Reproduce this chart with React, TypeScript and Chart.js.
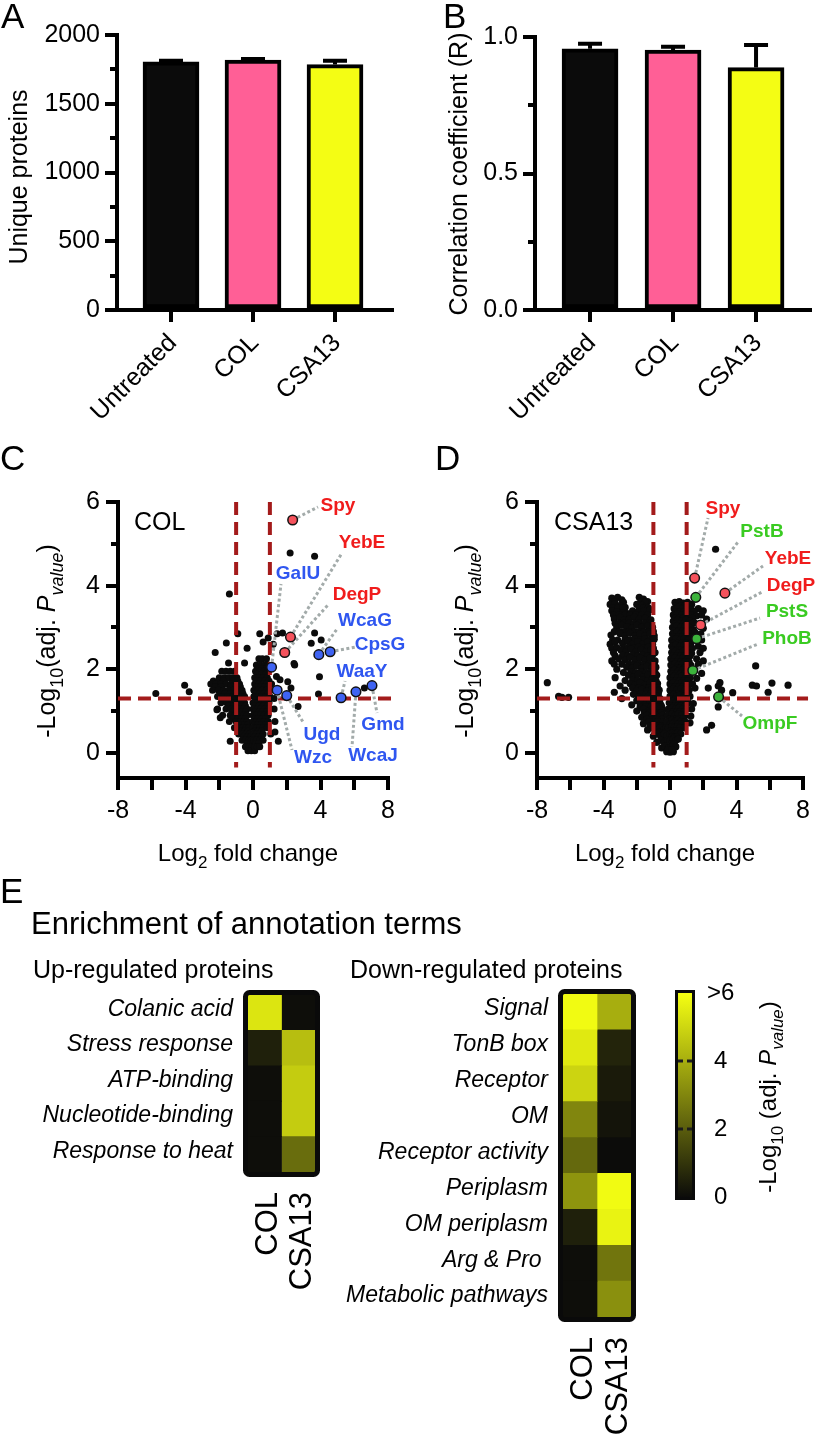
import React, { useEffect, useRef } from 'react';
import { Chart, registerables } from 'chart.js';

Chart.register(...registerables);

const FONT = '"Liberation Sans", Arial, Helvetica, sans-serif';
Chart.defaults.font.family = FONT;
Chart.defaults.color = '#000';

const W = 816;
const H = 1436;

// ------------------------------------------------------------------ DATA
// Panels A and B (bar charts, mean + SD)
const BAR_CATEGORIES = ['Untreated', 'COL', 'CSA13'];
const UNIQUE_PROTEINS = [1805, 1818, 1785];
const UNIQUE_PROTEINS_SD = [8, 8, 28];
const UNIQUE_TICKS = [0, 500, 1000, 1500, 2000];
const UNIQUE_MINOR_TICKS = [250, 750, 1250, 1750];
const CORRELATION_R = [0.957, 0.952, 0.888];
const CORRELATION_R_SD = [0.018, 0.012, 0.083];
const R_TICKS = [0, 0.5, 1.0];
const R_MINOR_TICKS = [0.25, 0.75];

// Panels C and D (volcano plots): [log2 fold change, -log10 adj. p]
const VOLCANO_X_TICKS = [-8, -6, -4, -2, 0, 2, 4, 6, 8];
const VOLCANO_Y_TICKS = [0, 2, 4, 6];
const VOLCANO_Y_MINOR_TICKS = [1, 3, 5];
const FC_CUTOFF = 1;
const P_CUTOFF = 1.3;

const COL_POINTS: [number, number][] = [
  [-1.45, 2.15], [-0.5, 2.15],
  [-1.85, 1.95], [-1.6, 1.95], [-1.35, 1.95], [-1.1, 1.95],
  [-2.0, 1.8], [-1.7, 1.8], [-1.45, 1.8], [-1.2, 1.8], [-0.95, 1.8],
  [-2.35, 1.72], [-2.05, 1.72], [-1.75, 1.72], [-1.15, 1.72], [-0.9, 1.72],
  [-2.5, 1.65], [-2.2, 1.65], [-1.9, 1.65], [-1.6, 1.65], [-1.3, 1.65], [-1.05, 1.65], [-0.8, 1.65],
  [-2.25, 1.58], [-1.9, 1.58], [-1.3, 1.58], [-1.0, 1.58], [-0.75, 1.58],
  [-2.4, 1.5], [-2.05, 1.5], [-1.75, 1.5], [-1.45, 1.5], [-1.15, 1.5], [-0.9, 1.5], [-0.65, 1.5],
  [-1.95, 1.42], [-1.65, 1.42], [-1.35, 1.42], [-1.05, 1.42], [-0.8, 1.42], [-0.6, 1.42],
  [-2.1, 1.35], [-1.8, 1.35], [-1.5, 1.35], [-1.2, 1.35], [-0.95, 1.35], [-0.7, 1.35], [-0.5, 1.35],
  [-1.7, 1.28], [-1.4, 1.28], [-1.1, 1.28], [-0.85, 1.28], [-0.6, 1.28],
  [-1.9, 1.2], [-1.55, 1.2], [-1.25, 1.2], [-1.0, 1.2], [-0.75, 1.2], [-0.5, 1.2],
  [-1.45, 1.12], [-1.15, 1.12], [-0.9, 1.12], [-0.65, 1.12], [-0.45, 1.12],
  [-2.1, 1.05], [-1.6, 1.05], [-1.3, 1.05], [-1.05, 1.05], [-0.8, 1.05], [-0.55, 1.05], [-0.35, 1.05],
  [-1.2, 0.98], [-0.95, 0.98], [-0.7, 0.98], [-0.45, 0.98],
  [-1.8, 0.9], [-1.35, 0.9], [-1.05, 0.9], [-0.8, 0.9], [-0.55, 0.9], [-0.35, 0.9],
  [-1.2, 0.82], [-0.9, 0.82], [-0.65, 0.82], [-0.45, 0.82],
  [-1.4, 0.75], [-1.0, 0.75], [-0.75, 0.75], [-0.55, 0.75], [-0.35, 0.75],
  [-0.9, 0.68], [-0.7, 0.68], [-0.5, 0.68], [-0.3, 0.68],
  [-1.1, 0.6], [-0.8, 0.6], [-0.6, 0.6], [-0.4, 0.6], [-0.25, 0.6],
  [-0.7, 0.52], [-0.5, 0.52], [-0.3, 0.52],
  [-0.85, 0.45], [-0.6, 0.45], [-0.4, 0.45], [-0.2, 0.45],
  [-0.55, 0.38], [-0.35, 0.38], [-0.15, 0.38],
  [-0.65, 0.3], [-0.45, 0.3], [-0.25, 0.3], [-0.1, 0.3],
  [-0.35, 0.22], [-0.15, 0.22], [0.0, 0.22],
  [-0.45, 0.15], [-0.25, 0.15], [-0.05, 0.15],
  [-0.3, 0.05], [-0.1, 0.05], [0.1, 0.05],
  [0.35, 2.25], [0.55, 2.25], [0.8, 2.25],
  [0.2, 2.1], [0.45, 2.1], [0.7, 2.1], [0.9, 2.1],
  [0.3, 2.02], [0.55, 2.02], [0.8, 2.02],
  [0.15, 1.95], [0.4, 1.95], [0.65, 1.95], [0.85, 1.95],
  [0.25, 1.88], [0.5, 1.88], [0.75, 1.88],
  [0.1, 1.8], [0.35, 1.8], [0.6, 1.8], [0.85, 1.8],
  [0.2, 1.72], [0.45, 1.72], [0.7, 1.72], [0.95, 1.72],
  [0.1, 1.65], [0.35, 1.65], [0.6, 1.65], [0.8, 1.65], [1.1, 1.65],
  [0.2, 1.58], [0.45, 1.58], [0.7, 1.58], [0.9, 1.58],
  [0.05, 1.5], [0.3, 1.5], [0.55, 1.5], [0.8, 1.5], [1.05, 1.5],
  [0.15, 1.42], [0.4, 1.42], [0.65, 1.42], [0.9, 1.42],
  [0.05, 1.35], [0.3, 1.35], [0.5, 1.35], [0.75, 1.35], [1.0, 1.35], [1.25, 1.3],
  [0.15, 1.28], [0.4, 1.28], [0.6, 1.28], [0.85, 1.28],
  [0.0, 1.2], [0.25, 1.2], [0.5, 1.2], [0.7, 1.2], [0.95, 1.2],
  [0.1, 1.12], [0.35, 1.12], [0.6, 1.12], [0.85, 1.12],
  [0.0, 1.05], [0.25, 1.05], [0.45, 1.05], [0.7, 1.05], [0.95, 1.05], [1.25, 1.05],
  [0.1, 0.98], [0.35, 0.98], [0.55, 0.98], [0.8, 0.98],
  [0.0, 0.9], [0.2, 0.9], [0.45, 0.9], [0.65, 0.9], [0.9, 0.9],
  [0.1, 0.82], [0.3, 0.82], [0.55, 0.82], [0.75, 0.82],
  [0.0, 0.75], [0.2, 0.75], [0.4, 0.75], [0.65, 0.75], [0.9, 0.75], [1.3, 0.75],
  [0.1, 0.68], [0.3, 0.68], [0.5, 0.68], [0.75, 0.68],
  [0.0, 0.6], [0.2, 0.6], [0.4, 0.6], [0.6, 0.6], [0.85, 0.6],
  [0.1, 0.52], [0.3, 0.52], [0.5, 0.52],
  [0.05, 0.45], [0.2, 0.45], [0.4, 0.45], [0.6, 0.45], [1.05, 0.45],
  [0.1, 0.38], [0.3, 0.38], [0.5, 0.38],
  [0.05, 0.3], [0.2, 0.3], [0.4, 0.3], [0.6, 0.3], [1.5, 0.28],
  [0.15, 0.22], [0.35, 0.22],
  [0.1, 0.15], [0.25, 0.15], [0.4, 0.15],
  [-5.76, 1.42], [-4.05, 1.62], [-3.78, 1.46], [-1.4, 3.8], [-0.9, 2.85], [-1.58, 2.63],
  [-2.24, 2.4], [-2.14, 1.03], [-1.94, 0.84], [-1.35, 0.28], [-0.35, 2.5], [0.4, 2.85],
  [0.6, 2.65], [0.9, 2.75], [1.2, 2.6], [1.43, 2.85], [1.75, 2.87], [2.47, 2.1],
  [1.39, 1.83], [1.6, 1.75], [2.06, 1.7], [2.25, 1.55], [2.67, 1.11], [2.2, 4.78],
  [3.65, 4.7], [3.65, 2.87], [4.04, 2.7], [3.45, 2.62], [3.94, 1.82], [3.88, 1.41],
  [6.6, 1.55], [2.43, 2.14], [1.3, 0.5],
];

const CSA13_POINTS: [number, number][] = [
  [-3.5, 3.7], [-3.15, 3.72], [-2.9, 3.66], [-1.85, 3.72], [-1.6, 3.68], [-1.35, 3.62],
  [-3.35, 3.62], [-2.8, 3.6], [-1.75, 3.62], [-1.5, 3.6],
  [-3.6, 3.55], [-3.3, 3.57], [-3.0, 3.52], [-2.7, 3.48], [-2.0, 3.55], [-1.7, 3.53], [-1.45, 3.5],
  [-3.45, 3.47], [-3.15, 3.47], [-2.85, 3.47], [-1.85, 3.47], [-1.6, 3.47], [-1.3, 3.47],
  [-3.5, 3.4], [-3.2, 3.38], [-2.85, 3.35], [-2.55, 3.33], [-2.25, 3.4], [-1.9, 3.38], [-1.55, 3.4], [-1.2, 3.42],
  [-3.4, 3.3], [-3.05, 3.3], [-2.7, 3.3], [-2.4, 3.3], [-2.05, 3.3], [-1.7, 3.3], [-1.35, 3.3],
  [-3.35, 3.2], [-3.0, 3.24], [-2.75, 3.18], [-2.45, 3.2], [-2.15, 3.25], [-1.85, 3.2], [-1.5, 3.22], [-1.15, 3.18],
  [-3.3, 3.1], [-3.05, 3.1], [-2.75, 3.1], [-2.45, 3.1], [-2.15, 3.1], [-1.85, 3.1], [-1.5, 3.1], [-1.2, 3.1],
  [-3.2, 3.0], [-2.9, 3.05], [-2.6, 3.02], [-2.3, 2.98], [-2.0, 3.05], [-1.7, 3.0], [-1.35, 3.04], [-1.05, 3.0],
  [-3.35, 2.9], [-3.05, 2.9], [-2.75, 2.9], [-2.45, 2.9], [-2.15, 2.9], [-1.85, 2.9], [-1.55, 2.9], [-1.25, 2.9], [-1.0, 2.9],
  [-3.55, 2.82], [-3.0, 2.85], [-2.7, 2.8], [-2.4, 2.86], [-2.1, 2.8], [-1.8, 2.84], [-1.5, 2.8], [-1.2, 2.85], [-0.95, 2.8],
  [-3.45, 2.7], [-3.15, 2.7], [-2.7, 2.72], [-2.4, 2.7], [-2.1, 2.72], [-1.8, 2.7], [-1.5, 2.72], [-1.2, 2.7], [-0.95, 2.72],
  [-3.6, 2.6], [-3.3, 2.66], [-2.85, 2.62], [-2.55, 2.68], [-2.25, 2.6], [-1.95, 2.66], [-1.65, 2.6], [-1.35, 2.65], [-1.05, 2.6],
  [-3.5, 2.5], [-3.2, 2.52], [-2.8, 2.5], [-2.5, 2.53], [-2.2, 2.5], [-1.9, 2.53], [-1.6, 2.5], [-1.3, 2.53], [-1.0, 2.5],
  [-3.4, 2.4], [-2.95, 2.46], [-2.65, 2.42], [-2.35, 2.48], [-2.05, 2.42], [-1.75, 2.47], [-1.45, 2.42], [-1.15, 2.46], [-0.9, 2.4],
  [-3.3, 2.32], [-2.85, 2.33], [-2.55, 2.32], [-2.25, 2.34], [-1.95, 2.32], [-1.65, 2.34], [-1.35, 2.32], [-1.05, 2.34],
  [-3.5, 2.2], [-3.1, 2.25], [-2.7, 2.22], [-2.4, 2.28], [-2.1, 2.22], [-1.8, 2.27], [-1.5, 2.22], [-1.2, 2.27], [-0.9, 2.2],
  [-3.35, 2.12], [-2.9, 2.12], [-2.45, 2.13], [-2.15, 2.11], [-1.85, 2.13], [-1.55, 2.11], [-1.25, 2.13], [-0.95, 2.11],
  [-3.2, 2.0], [-2.6, 2.05], [-2.3, 2.02], [-2.0, 2.08], [-1.7, 2.02], [-1.4, 2.07], [-1.1, 2.02], [-0.85, 2.05],
  [-2.8, 1.92], [-2.35, 1.93], [-2.05, 1.92], [-1.75, 1.94], [-1.45, 1.92], [-1.15, 1.94], [-0.9, 1.92],
  [-3.3, 1.8], [-2.5, 1.86], [-2.2, 1.82], [-1.9, 1.88], [-1.6, 1.82], [-1.3, 1.87], [-1.0, 1.82], [-0.8, 1.86],
  [-2.7, 1.73], [-2.25, 1.74], [-1.95, 1.73], [-1.65, 1.75], [-1.35, 1.73], [-1.1, 1.75], [-0.85, 1.73],
  [-3.0, 1.6], [-2.4, 1.66], [-2.1, 1.62], [-1.8, 1.68], [-1.5, 1.62], [-1.2, 1.67], [-0.95, 1.62], [-0.75, 1.66],
  [-2.25, 1.55], [-1.85, 1.56], [-1.55, 1.55], [-1.25, 1.56], [-0.95, 1.55], [-0.75, 1.56],
  [-3.35, 1.45], [-2.7, 1.5], [-2.0, 1.48], [-1.7, 1.52], [-1.4, 1.47], [-1.1, 1.52], [-0.85, 1.47], [-0.65, 1.5],
  [-2.2, 1.4], [-1.75, 1.41], [-1.45, 1.4], [-1.15, 1.41], [-0.9, 1.4], [-0.7, 1.41],
  [-2.9, 1.3], [-1.9, 1.34], [-1.6, 1.3], [-1.3, 1.35], [-1.0, 1.3], [-0.8, 1.35], [-0.6, 1.3],
  [-2.0, 1.25], [-1.65, 1.25], [-1.35, 1.26], [-1.1, 1.25], [-0.85, 1.26], [-0.62, 1.25],
  [-2.3, 1.15], [-1.8, 1.2], [-1.5, 1.15], [-1.2, 1.2], [-0.95, 1.15], [-0.7, 1.2], [-0.55, 1.15],
  [-1.8, 1.1], [-1.45, 1.1], [-1.15, 1.11], [-0.9, 1.1], [-0.7, 1.11], [-0.5, 1.1],
  [-2.0, 1.0], [-1.6, 1.05], [-1.3, 1.0], [-1.05, 1.05], [-0.8, 1.0], [-0.6, 1.05], [-0.45, 1.0],
  [-1.55, 0.95], [-1.25, 0.95], [-0.95, 0.96], [-0.75, 0.95], [-0.55, 0.96],
  [-1.7, 0.85], [-1.4, 0.9], [-1.1, 0.85], [-0.85, 0.9], [-0.65, 0.85], [-0.45, 0.9],
  [-1.4, 0.8], [-1.1, 0.79], [-0.85, 0.8], [-0.65, 0.79], [-0.47, 0.8],
  [-1.6, 0.7], [-1.25, 0.75], [-1.0, 0.7], [-0.75, 0.75], [-0.55, 0.7], [-0.4, 0.75],
  [-1.2, 0.64], [-0.9, 0.64], [-0.7, 0.65], [-0.5, 0.64], [-0.33, 0.65],
  [-1.35, 0.55], [-1.05, 0.6], [-0.8, 0.55], [-0.6, 0.6], [-0.4, 0.55], [-0.25, 0.6],
  [-0.9, 0.48], [-0.65, 0.49], [-0.45, 0.48], [-0.28, 0.49],
  [-1.0, 0.4], [-0.75, 0.45], [-0.55, 0.4], [-0.35, 0.45], [-0.2, 0.4],
  [-0.8, 0.25], [-0.55, 0.3], [-0.35, 0.25], [-0.15, 0.3],
  [-0.5, 0.12], [-0.3, 0.16], [-0.1, 0.12],
  [-0.2, 0.03], [0.0, 0.02], [0.2, 0.03],
  [0.3, 3.6], [0.55, 3.62], [0.8, 3.58], [1.05, 3.6], [1.3, 3.55],
  [0.4, 3.52], [0.65, 3.52], [0.9, 3.52], [1.15, 3.52],
  [0.25, 3.45], [0.5, 3.48], [0.75, 3.45], [1.0, 3.48], [1.3, 3.42], [1.7, 3.45], [2.0, 3.4],
  [0.35, 3.38], [0.6, 3.38], [0.85, 3.38], [1.1, 3.38], [1.45, 3.38],
  [0.2, 3.3], [0.45, 3.33], [0.7, 3.3], [0.95, 3.33], [1.25, 3.3], [1.6, 3.28], [1.9, 3.3],
  [0.3, 3.22], [0.55, 3.22], [0.8, 3.22], [1.1, 3.22], [1.35, 3.22],
  [0.2, 3.15], [0.45, 3.18], [0.7, 3.15], [0.95, 3.18], [1.2, 3.15], [1.45, 3.12], [2.2, 3.2],
  [0.3, 3.08], [0.55, 3.08], [0.8, 3.08], [1.05, 3.08], [1.3, 3.08],
  [0.15, 3.0], [0.4, 3.03], [0.65, 3.0], [0.9, 3.03], [1.15, 3.0], [1.4, 2.95], [2.0, 2.98],
  [0.25, 2.92], [0.5, 2.92], [0.75, 2.92], [1.0, 2.92], [1.3, 2.92],
  [0.15, 2.85], [0.4, 2.88], [0.65, 2.85], [0.9, 2.88], [1.15, 2.85], [1.5, 2.88], [1.85, 2.85],
  [0.25, 2.78], [0.5, 2.78], [0.75, 2.78], [1.0, 2.78], [1.35, 2.78],
  [0.1, 2.7], [0.35, 2.73], [0.6, 2.7], [0.85, 2.73], [1.1, 2.7], [1.9, 2.7],
  [0.2, 2.62], [0.45, 2.62], [0.7, 2.62], [0.95, 2.62], [1.25, 2.62],
  [0.1, 2.55], [0.35, 2.58], [0.6, 2.55], [0.85, 2.58], [1.1, 2.55], [1.35, 2.5], [1.7, 2.55], [2.0, 2.5],
  [0.2, 2.47], [0.45, 2.47], [0.7, 2.47], [0.95, 2.47], [1.2, 2.47],
  [0.1, 2.4], [0.3, 2.43], [0.55, 2.4], [0.8, 2.43], [1.05, 2.4], [1.3, 2.38], [1.8, 2.4],
  [0.15, 2.32], [0.4, 2.32], [0.65, 2.32], [0.9, 2.32], [1.2, 2.32],
  [0.05, 2.25], [0.3, 2.28], [0.55, 2.25], [0.8, 2.28], [1.05, 2.25], [1.6, 2.25], [2.0, 2.2],
  [0.15, 2.18], [0.4, 2.18], [0.65, 2.18], [0.9, 2.18], [1.15, 2.18],
  [0.05, 2.1], [0.3, 2.13], [0.5, 2.1], [0.75, 2.13], [1.0, 2.1], [1.25, 2.1], [1.7, 2.12],
  [0.15, 2.02], [0.4, 2.02], [0.6, 2.02], [0.85, 2.02], [1.15, 2.02],
  [0.05, 1.95], [0.25, 1.98], [0.5, 1.95], [0.75, 1.98], [1.0, 1.95], [1.9, 1.9],
  [0.1, 1.88], [0.35, 1.88], [0.6, 1.88], [0.85, 1.88], [1.1, 1.88],
  [0.0, 1.8], [0.25, 1.83], [0.45, 1.8], [0.7, 1.83], [0.95, 1.8], [1.2, 1.8], [1.6, 1.78],
  [0.1, 1.72], [0.35, 1.72], [0.55, 1.72], [0.8, 1.72], [1.05, 1.72],
  [0.0, 1.65], [0.2, 1.68], [0.45, 1.65], [0.7, 1.68], [0.9, 1.65], [1.35, 1.65],
  [0.1, 1.58], [0.3, 1.58], [0.55, 1.58], [0.75, 1.58], [1.0, 1.58],
  [0.0, 1.5], [0.2, 1.53], [0.4, 1.5], [0.65, 1.53], [0.9, 1.5], [1.15, 1.5], [1.5, 1.55],
  [0.1, 1.42], [0.3, 1.42], [0.5, 1.42], [0.75, 1.42], [1.0, 1.42],
  [0.0, 1.35], [0.2, 1.38], [0.4, 1.35], [0.6, 1.38], [0.85, 1.35], [1.2, 1.35],
  [0.05, 1.28], [0.3, 1.28], [0.45, 1.28], [0.7, 1.28], [0.95, 1.28],
  [-0.05, 1.2], [0.15, 1.23], [0.35, 1.2], [0.55, 1.23], [0.8, 1.2], [1.1, 1.2], [1.4, 1.18],
  [0.05, 1.12], [0.25, 1.12], [0.45, 1.12], [0.65, 1.12], [0.9, 1.12],
  [-0.1, 1.05], [0.15, 1.08], [0.35, 1.05], [0.55, 1.08], [0.75, 1.05], [1.0, 1.05], [1.3, 1.05],
  [0.0, 0.98], [0.2, 0.98], [0.4, 0.98], [0.6, 0.98], [0.85, 0.98],
  [-0.15, 0.9], [0.1, 0.93], [0.3, 0.9], [0.5, 0.93], [0.7, 0.9], [0.95, 0.9], [1.25, 0.88],
  [0.0, 0.82], [0.2, 0.82], [0.4, 0.82], [0.55, 0.82], [0.8, 0.82],
  [-0.2, 0.75], [0.1, 0.78], [0.3, 0.75], [0.45, 0.78], [0.65, 0.75], [0.9, 0.75], [1.2, 0.72],
  [0.0, 0.68], [0.15, 0.68], [0.35, 0.68], [0.5, 0.68], [0.7, 0.68],
  [-0.1, 0.6], [0.1, 0.63], [0.25, 0.6], [0.45, 0.63], [0.6, 0.6], [0.85, 0.6],
  [0.05, 0.52], [0.2, 0.52], [0.35, 0.52], [0.55, 0.52],
  [0.0, 0.45], [0.15, 0.48], [0.3, 0.45], [0.45, 0.48], [0.65, 0.45],
  [0.1, 0.38], [0.25, 0.38], [0.4, 0.38],
  [0.0, 0.3], [0.2, 0.33], [0.35, 0.3], [0.5, 0.33],
  [0.1, 0.22], [0.25, 0.22],
  [0.05, 0.15], [0.2, 0.18], [0.35, 0.15],
  [-0.1, 0.08], [0.1, 0.08],
  [2.74, 4.87], [5.15, 2.08], [4.95, 1.62], [5.2, 1.6], [6.13, 1.67], [5.9, 1.45],
  [7.1, 1.62], [3.77, 1.44], [2.9, 1.6], [3.1, 1.5], [2.9, 1.1], [2.5, 0.66],
  [2.2, 0.55], [-7.38, 1.68], [-6.7, 1.35], [-6.5, 1.33], [-6.1, 1.33], [2.3, 1.55], [3.0, 1.68],
];

type Hit = { name: string; x: number; y: number; group: 'stress' | 'capsule' | 'pho' };

const COL_HITS: Hit[] = [
  { name: 'Spy', x: 2.35, y: 5.57, group: 'stress' },
  { name: 'YebE', x: 2.22, y: 2.77, group: 'stress' },
  { name: 'DegP', x: 1.88, y: 2.4, group: 'stress' },
  { name: 'GalU', x: 1.1, y: 2.05, group: 'capsule' },
  { name: 'WcaG', x: 3.9, y: 2.35, group: 'capsule' },
  { name: 'CpsG', x: 4.57, y: 2.42, group: 'capsule' },
  { name: 'WaaY', x: 5.22, y: 1.32, group: 'capsule' },
  { name: 'WcaJ', x: 6.1, y: 1.46, group: 'capsule' },
  { name: 'Gmd', x: 7.05, y: 1.61, group: 'capsule' },
  { name: 'Wzc', x: 1.43, y: 1.5, group: 'capsule' },
  { name: 'Ugd', x: 2.0, y: 1.37, group: 'capsule' },
];

const CSA13_HITS: Hit[] = [
  { name: 'Spy', x: 1.48, y: 4.18, group: 'stress' },
  { name: 'YebE', x: 3.3, y: 3.82, group: 'stress' },
  { name: 'DegP', x: 1.84, y: 3.06, group: 'stress' },
  { name: 'PstB', x: 1.55, y: 3.72, group: 'pho' },
  { name: 'PstS', x: 1.6, y: 2.73, group: 'pho' },
  { name: 'PhoB', x: 1.37, y: 1.97, group: 'pho' },
  { name: 'OmpF', x: 2.92, y: 1.34, group: 'pho' },
];

// Panel E (heat maps of -log10 adj. p)
const HEAT_COLUMNS = ['COL', 'CSA13'];
const UP_TERMS = ['Colanic acid', 'Stress response', 'ATP-binding', 'Nucleotide-binding', 'Response to heat'];
const UP_COL = [5.35, 0.5, 0.05, 0.05, 0.05];
const UP_CSA13 = [0.05, 4.4, 4.75, 4.75, 2.4];
const DOWN_TERMS = ['Signal', 'TonB box', 'Receptor', 'OM', 'Receptor activity', 'Periplasm', 'OM periplasm', 'Arg & Pro ', 'Metabolic pathways'];
const DOWN_COL = [5.9, 5.45, 4.95, 3.0, 2.3, 3.35, 0.5, 0.05, 0.05];
const DOWN_CSA13 = [4.0, 0.6, 0.35, 0.2, 0.0, 5.9, 5.7, 2.6, 3.25];
const COLORBAR_MAX = 6;
const COLORBAR_TICKS = [0, 2, 4, 6];
const COLORBAR_LABELS = ['0', '2', '4', '>6'];

// ------------------------------------------------------------------ LAYOUT / STYLE
type Area = { l: number; r: number; t: number; b: number };
const AREA_A: Area = { l: 117, r: 392, t: 35, b: 310 };
const AREA_B: Area = { l: 535, r: 810, t: 37, b: 310 };
const AREA_C: Area = { l: 118, r: 388, t: 502, b: 778 };
const AREA_D: Area = { l: 537, r: 807, t: 502, b: 778 };
const AREA_UP: Area = { l: 248, r: 315, t: 995, b: 1172 };
const AREA_DOWN: Area = { l: 563, r: 631, t: 994, b: 1317 };
const AREA_CB: Area = { l: 678, r: 692, t: 993, b: 1197 };

const BAR_COLORS = ['#0b0b0b', '#ff5f96', '#f4fd14'];
const DASH_COLOR = '#a31b1b';
const LEADER_COLOR = '#a3abaa';
const GROUP_STYLE: Record<string, { fill: string; text: string }> = {
  stress: { fill: '#f4525c', text: '#f01c1c' },
  capsule: { fill: '#3f63f2', text: '#2f56f0' },
  pho: { fill: '#3cb33c', text: '#3acb22' },
};

const COL_LABEL_POS: Record<string, [number, number]> = {
  Spy: [338, 506], YebE: [362, 543], GalU: [298, 574], DegP: [357, 595], WcaG: [365, 621],
  CpsG: [380, 645], WaaY: [362, 672], Gmd: [383, 725], Ugd: [322, 735], WcaJ: [373, 756], Wzc: [313, 758],
};
const COL_LEADER_END: Record<string, [number, number]> = {
  Spy: [318, 507], YebE: [342, 553], GalU: [281, 584], DegP: [328, 605], WcaG: [337, 629],
  CpsG: [356, 647], WaaY: [345, 681], Gmd: [377, 713], WcaJ: [352, 747], Ugd: [303, 722], Wzc: [292, 750],
};
const CSA_LABEL_POS: Record<string, [number, number]> = {
  Spy: [723, 509], PstB: [762, 532], YebE: [788, 559], DegP: [791, 586], PstS: [787, 612], PhoB: [787, 639], OmpF: [770, 724],
};
const CSA_LEADER_END: Record<string, [number, number]> = {
  Spy: [708, 518], PstB: [738, 542], YebE: [763, 566], DegP: [762, 592], PstS: [760, 618], PhoB: [758, 644], OmpF: [742, 716],
};

// ------------------------------------------------------------------ HELPERS
type Part = { t: string; sub?: boolean; italic?: boolean; bold?: boolean };

function drawRich(
  ctx: CanvasRenderingContext2D, parts: Part[], x: number, y: number, size: number,
  align: 'left' | 'center' | 'right' = 'left', rot = 0, color = '#000', baseline: CanvasTextBaseline = 'alphabetic',
) {
  ctx.save();
  ctx.translate(x, y);
  if (rot) ctx.rotate(rot);
  ctx.fillStyle = color;
  ctx.textAlign = 'left';
  ctx.textBaseline = baseline;
  const fontOf = (p: Part) => `${p.italic ? 'italic ' : ''}${p.bold ? 'bold ' : ''}${p.sub ? Math.round(size * 0.7) : size}px ${FONT}`;
  const widths = parts.map((p) => { ctx.font = fontOf(p); return ctx.measureText(p.t).width; });
  const total = widths.reduce((a, b) => a + b, 0);
  let cx = align === 'left' ? 0 : align === 'center' ? -total / 2 : -total;
  parts.forEach((p, i) => {
    ctx.font = fontOf(p);
    ctx.fillText(p.t, cx, p.sub ? size * 0.3 : 0);
    cx += widths[i];
  });
  ctx.restore();
}

const txt = (t: string, extra: Partial<Part> = {}): Part[] => [{ t, ...extra }];
const LOG_P_TITLE = (space: string): Part[] => [
  { t: '-Log' }, { t: '10', sub: true }, { t: space + '(adj. ' }, { t: 'P', italic: true }, { t: 'value', sub: true, italic: true }, { t: ')' },
];

function heatColor(v: number) {
  const t = Math.max(0, Math.min(1, v / COLORBAR_MAX));
  const lo = [12, 12, 10];
  const hi = [245, 255, 18];
  const c = lo.map((l, i) => Math.round(l + (hi[i] - l) * t));
  return `rgb(${c[0]},${c[1]},${c[2]})`;
}

const axisStyle = (tl: number) => ({
  border: { display: true, width: 4, color: '#000' },
  grid: { display: true, offset: false, drawOnChartArea: false, drawTicks: true, tickLength: tl, lineWidth: 4, tickWidth: 4, tickColor: '#000', color: '#000' },
});

function minorTicksY(chart: any, values: number[], len: number) {
  const { ctx, chartArea, scales } = chart;
  ctx.save();
  ctx.strokeStyle = '#000';
  ctx.lineWidth = 4;
  values.forEach((v) => {
    const py = Math.round(scales.y.getPixelForValue(v));
    ctx.beginPath();
    ctx.moveTo(chartArea.left - len, py);
    ctx.lineTo(chartArea.left, py);
    ctx.stroke();
  });
  ctx.restore();
}

const baseOptions = (padding: any) => ({
  animation: false,
  responsive: false,
  maintainAspectRatio: false,
  events: [],
  layout: { padding },
  plugins: { legend: { display: false }, tooltip: { enabled: false } },
});

// ------------------------------------------------------------------ CONFIGS
function barConfig(o: {
  values: number[]; sds: number[]; area: Area; xRange: [number, number]; yMax: number; ticks: number[]; minor: number[];
  fmt: (v: number) => string; letter: string; letterX: number; title: string; titleX: number; titleY: number;
}) {
  const YW = 100;
  const XH = 100;
  const a = o.area;
  return {
    type: 'bar',
    data: {
      datasets: [{
        data: o.values.map((v, i) => ({ x: i + 1, y: v })),
        backgroundColor: BAR_COLORS,
        borderColor: '#000',
        borderWidth: 4,
        borderSkipped: false,
        barThickness: 56,
      }],
    },
    options: {
      ...baseOptions({ left: a.l - YW, right: W - a.r, top: a.t, bottom: H - a.b - XH }),
      scales: {
        x: {
          type: 'linear', min: o.xRange[0], max: o.xRange[1], offset: false,
          afterBuildTicks: (s: any) => { s.ticks = BAR_CATEGORIES.map((_, i) => ({ value: i + 1 })); },
          ticks: { display: false, autoSkip: false },
          afterFit: (s: any) => { s.height = XH; },
          ...axisStyle(12),
        },
        y: {
          type: 'linear', min: 0, max: o.yMax,
          afterBuildTicks: (s: any) => { s.ticks = o.ticks.map((v) => ({ value: v })); },
          ticks: { padding: 5, font: { size: 25 }, color: '#000', callback: (v: any) => o.fmt(Number(v)) },
          afterFit: (s: any) => { s.width = YW; },
          ...axisStyle(12),
        },
      },
    },
    plugins: [{
      id: 'barDecor',
      afterDatasetsDraw(chart: any) {
        const { ctx, scales } = chart;
        ctx.save();
        ctx.strokeStyle = '#000';
        ctx.lineWidth = 4;
        o.values.forEach((v, i) => {
          const px = scales.x.getPixelForValue(i + 1);
          const y0 = scales.y.getPixelForValue(v);
          const y1 = scales.y.getPixelForValue(v + o.sds[i]);
          ctx.beginPath();
          ctx.moveTo(px, y0);
          ctx.lineTo(px, y1);
          ctx.moveTo(px - 12, y1);
          ctx.lineTo(px + 12, y1);
          ctx.stroke();
        });
        ctx.restore();
      },
      afterDraw(chart: any) {
        const { ctx, scales, chartArea } = chart;
        minorTicksY(chart, o.minor, 7);
        BAR_CATEGORIES.forEach((c, i) => {
          const px = scales.x.getPixelForValue(i + 1);
          drawRich(ctx, txt(c), px + 2, chartArea.bottom + 29, 25, 'right', -Math.PI / 4, '#000', 'middle');
        });
        drawRich(ctx, txt(o.letter), o.letterX, 28, 35);
        drawRich(ctx, txt(o.title), o.titleX, o.titleY, 25, 'center', -Math.PI / 2);
      },
    }],
  };
}

function volcanoConfig(o: {
  points: [number, number][]; hits: Hit[]; area: Area; labelPos: Record<string, [number, number]>; dotRadius: number;
  leaderEnd: Record<string, [number, number]>; letter: string; letterX: number; tag: string; tagX: number; yTitleX: number;
}) {
  const YW = 80;
  const XH = 60;
  const a = o.area;
  const dash = (label: string, data: any[], order: number) => ({
    label, data, showLine: true, pointRadius: 0, borderColor: DASH_COLOR, borderWidth: 4,
    borderDash: [13, 7], order, clip: false, tension: 0,
  });
  const groups = ['stress', 'capsule', 'pho'].filter((g) => o.hits.some((h) => h.group === g));
  return {
    type: 'scatter',
    data: {
      datasets: [
        {
          label: 'proteins', data: o.points.map(([x, y]) => ({ x, y })), pointRadius: o.dotRadius,
          pointBackgroundColor: '#0b0b0b', pointBorderWidth: 0, order: 10, clip: false,
        },
        dash('fc-low', [{ x: -FC_CUTOFF, y: 6 }, { x: -FC_CUTOFF, y: -0.35 }], 9),
        dash('fc-high', [{ x: FC_CUTOFF, y: 6 }, { x: FC_CUTOFF, y: -0.35 }], 8),
        dash('p-cutoff', [{ x: -8, y: P_CUTOFF }, { x: 8.3, y: P_CUTOFF }], 7),
        ...groups.map((g) => ({
          label: g, data: o.hits.filter((h) => h.group === g).map((h) => ({ x: h.x, y: h.y })),
          pointRadius: 4.8, pointBackgroundColor: GROUP_STYLE[g].fill, pointBorderColor: '#111', pointBorderWidth: 1.5,
          order: 1, clip: false,
        })),
      ],
    },
    options: {
      ...baseOptions({ left: a.l - YW, right: W - a.r, top: a.t, bottom: H - a.b - XH }),
      scales: {
        x: {
          type: 'linear', min: -8, max: 8,
          afterBuildTicks: (s: any) => { s.ticks = VOLCANO_X_TICKS.map((v) => ({ value: v })); },
          ticks: { autoSkip: false, maxRotation: 0, minRotation: 0, padding: 6, font: { size: 25 }, color: '#000', callback: (v: any) => (Number(v) % 4 === 0 ? String(v) : '') },
          afterFit: (s: any) => { s.height = XH; },
          ...axisStyle(12),
        },
        y: {
          type: 'linear', min: -0.6, max: 6,
          afterBuildTicks: (s: any) => { s.ticks = VOLCANO_Y_TICKS.map((v) => ({ value: v })); },
          ticks: { padding: 6, font: { size: 25 }, color: '#000', callback: (v: any) => String(v) },
          afterFit: (s: any) => { s.width = YW; },
          ...axisStyle(12),
        },
      },
    },
    plugins: [{
      id: 'volcanoDecor',
      afterDatasetDraw(chart: any, args: any) {
        if (chart.data.datasets[args.index].label !== 'p-cutoff') return;
        const { ctx, scales } = chart;
        ctx.save();
        ctx.strokeStyle = LEADER_COLOR;
        ctx.lineWidth = 3;
        ctx.setLineDash([3, 2.5]);
        o.hits.forEach((h) => {
          const end = o.leaderEnd[h.name];
          if (!end) return;
          ctx.beginPath();
          ctx.moveTo(scales.x.getPixelForValue(h.x), scales.y.getPixelForValue(h.y));
          ctx.lineTo(end[0], end[1]);
          ctx.stroke();
        });
        ctx.restore();
      },
      afterDraw(chart: any) {
        const { ctx, chartArea } = chart;
        minorTicksY(chart, VOLCANO_Y_MINOR_TICKS, 7);
        o.hits.forEach((h) => {
          const p = o.labelPos[h.name];
          if (!p) return;
          drawRich(ctx, txt(h.name, { bold: true }), p[0], p[1], 19, 'center', 0, GROUP_STYLE[h.group].text, 'middle');
        });
        drawRich(ctx, txt(o.letter), o.letterX, 470, 35);
        drawRich(ctx, txt(o.tag), o.tagX, 530, 25);
        drawRich(ctx, LOG_P_TITLE(''), o.yTitleX, 641, 25, 'center', -Math.PI / 2);
        drawRich(ctx, [{ t: 'Log' }, { t: '2', sub: true }, { t: ' fold change' }], (chartArea.left + chartArea.right) / 2 - 5, 861, 24, 'center');
      },
    }],
  };
}

function heatConfig(o: { terms: string[]; col: number[]; csa: number[]; area: Area; extra: (ctx: CanvasRenderingContext2D) => void }) {
  const YW = 220;
  const a = o.area;
  const vals = [o.col, o.csa];
  return {
    type: 'bar',
    data: {
      labels: o.terms,
      datasets: HEAT_COLUMNS.map((name, ci) => ({
        label: name,
        data: o.terms.map(() => [ci, ci + 1]),
        backgroundColor: vals[ci].map(heatColor),
        borderWidth: 0,
        grouped: false,
        barPercentage: 1,
        categoryPercentage: 1,
      })),
    },
    options: {
      ...baseOptions({ left: a.l - YW, right: W - a.r, top: a.t, bottom: H - a.b }),
      indexAxis: 'y',
      scales: {
        x: { type: 'linear', min: 0, max: HEAT_COLUMNS.length, display: false },
        y: {
          type: 'category', offset: true,
          grid: { display: false, drawTicks: false },
          border: { display: false },
          ticks: { autoSkip: false, padding: 15, labelOffset: -3, font: { size: 23, style: 'italic' }, color: '#000' },
          afterFit: (s: any) => { s.width = YW; },
        },
      },
    },
    plugins: [{
      id: 'heatDecor',
      afterDraw(chart: any) {
        const { ctx, chartArea, scales } = chart;
        ctx.save();
        ctx.strokeStyle = '#0a0a0a';
        ctx.lineWidth = 5;
        ctx.beginPath();
        (ctx as any).roundRect(chartArea.left - 2.5, chartArea.top - 2.5, chartArea.right - chartArea.left + 5, chartArea.bottom - chartArea.top + 5, 4);
        ctx.stroke();
        ctx.restore();
        HEAT_COLUMNS.forEach((c, i) => {
          const px = scales.x.getPixelForValue(i + 0.5);
          drawRich(ctx, txt(c), px + 12 + i, chartArea.bottom + 20, 31, 'right', -Math.PI / 2);
        });
        o.extra(ctx);
      },
    }],
  };
}

function colorbarConfig() {
  const YW = 60;
  const a = AREA_CB;
  return {
    type: 'bar',
    data: {
      labels: [''],
      datasets: [{
        data: [COLORBAR_MAX],
        backgroundColor: (c: any) => {
          const ch = c.chart;
          if (!ch.chartArea) return heatColor(3);
          const y = ch.scales.y;
          const g = ch.ctx.createLinearGradient(0, y.getPixelForValue(0), 0, y.getPixelForValue(COLORBAR_MAX));
          [0, 1, 2, 3, 4, 5, 6].forEach((v) => g.addColorStop(v / COLORBAR_MAX, heatColor(v)));
          return g;
        },
        borderWidth: 0,
        barPercentage: 1,
        categoryPercentage: 1,
      }],
    },
    options: {
      ...baseOptions({ left: a.l, right: W - a.r - YW, top: a.t, bottom: H - a.b }),
      scales: {
        x: { display: false },
        y: {
          type: 'linear', position: 'right', min: 0, max: COLORBAR_MAX,
          afterBuildTicks: (s: any) => { s.ticks = COLORBAR_TICKS.map((v) => ({ value: v })); },
          ticks: { padding: 15, crossAlign: 'center', font: { size: 24 }, color: '#000', callback: (v: any) => COLORBAR_LABELS[COLORBAR_TICKS.indexOf(Number(v))] },
          grid: { display: false, drawTicks: false },
          border: { display: false },
          afterFit: (s: any) => { s.width = YW; },
        },
      },
    },
    plugins: [{
      id: 'cbDecor',
      afterDraw(chart: any) {
        const { ctx, chartArea, scales } = chart;
        ctx.save();
        ctx.strokeStyle = '#0a0a0a';
        ctx.lineWidth = 3;
        ctx.strokeRect(chartArea.left - 1.5, chartArea.top - 1.5, chartArea.right - chartArea.left + 3, chartArea.bottom - chartArea.top + 3);
        ctx.strokeStyle = '#1c1c1c';
        [2, 4].forEach((v) => {
          const py = scales.y.getPixelForValue(v);
          ctx.beginPath();
          ctx.moveTo(chartArea.left, py);
          ctx.lineTo(chartArea.left + 5, py);
          ctx.moveTo(chartArea.right - 5, py);
          ctx.lineTo(chartArea.right, py);
          ctx.stroke();
        });
        ctx.restore();
        drawRich(ctx, LOG_P_TITLE(' '), 776, 1097, 24, 'center', -Math.PI / 2);
      },
    }],
  };
}

// ------------------------------------------------------------------ APP
export default function App() {
  const r0 = useRef<HTMLCanvasElement>(null);
  const r1 = useRef<HTMLCanvasElement>(null);
  const r2 = useRef<HTMLCanvasElement>(null);
  const r3 = useRef<HTMLCanvasElement>(null);
  const r4 = useRef<HTMLCanvasElement>(null);
  const r5 = useRef<HTMLCanvasElement>(null);
  const r6 = useRef<HTMLCanvasElement>(null);
  const refs = [r0, r1, r2, r3, r4, r5, r6];

  useEffect(() => {
    const configs: any[] = [
      barConfig({
        values: UNIQUE_PROTEINS, sds: UNIQUE_PROTEINS_SD, area: AREA_A, xRange: [0.3415, 3.695], yMax: 2000,
        ticks: UNIQUE_TICKS, minor: UNIQUE_MINOR_TICKS, fmt: (v) => String(v), letter: 'A', letterX: 1,
        title: 'Unique proteins', titleX: 27, titleY: 177,
      }),
      barConfig({
        values: CORRELATION_R, sds: CORRELATION_R_SD, area: AREA_B, xRange: [0.337, 3.65], yMax: 1,
        ticks: R_TICKS, minor: R_MINOR_TICKS, fmt: (v) => v.toFixed(1), letter: 'B', letterX: 443,
        title: 'Correlation coefficient (R)', titleX: 467, titleY: 174,
      }),
      volcanoConfig({
        points: COL_POINTS, hits: COL_HITS, area: AREA_C, labelPos: COL_LABEL_POS, leaderEnd: COL_LEADER_END, dotRadius: 3.5,
        letter: 'C', letterX: 0, tag: 'COL', tagX: 134, yTitleX: 55,
      }),
      volcanoConfig({
        points: CSA13_POINTS, hits: CSA13_HITS, area: AREA_D, labelPos: CSA_LABEL_POS, leaderEnd: CSA_LEADER_END, dotRadius: 3.6,
        letter: 'D', letterX: 435, tag: 'CSA13', tagX: 554, yTitleX: 473,
      }),
      heatConfig({
        terms: UP_TERMS, col: UP_COL, csa: UP_CSA13, area: AREA_UP,
        extra: (ctx) => {
          drawRich(ctx, txt('E'), 0, 903, 35);
          drawRich(ctx, txt('Enrichment of annotation terms'), 31, 934, 31);
          drawRich(ctx, txt('Up-regulated proteins'), 33, 978, 25);
        },
      }),
      heatConfig({
        terms: DOWN_TERMS, col: DOWN_COL, csa: DOWN_CSA13, area: AREA_DOWN,
        extra: (ctx) => {
          drawRich(ctx, txt('Down-regulated proteins'), 350, 978, 25);
        },
      }),
      colorbarConfig(),
    ];
    const charts = configs.map((cfg, i) => new Chart(refs[i].current as HTMLCanvasElement, cfg));
    return () => charts.forEach((c) => c.destroy());
  }, []);

  return (
    <div style={{ position: 'absolute', left: 0, top: 0, width: W, height: H, background: '#fff', overflow: 'hidden' }}>
      {refs.map((r, i) => (
        <canvas key={i} ref={r} width={W} height={H} style={{ position: 'absolute', left: 0, top: 0, width: W, height: H }} />
      ))}
    </div>
  );
}
